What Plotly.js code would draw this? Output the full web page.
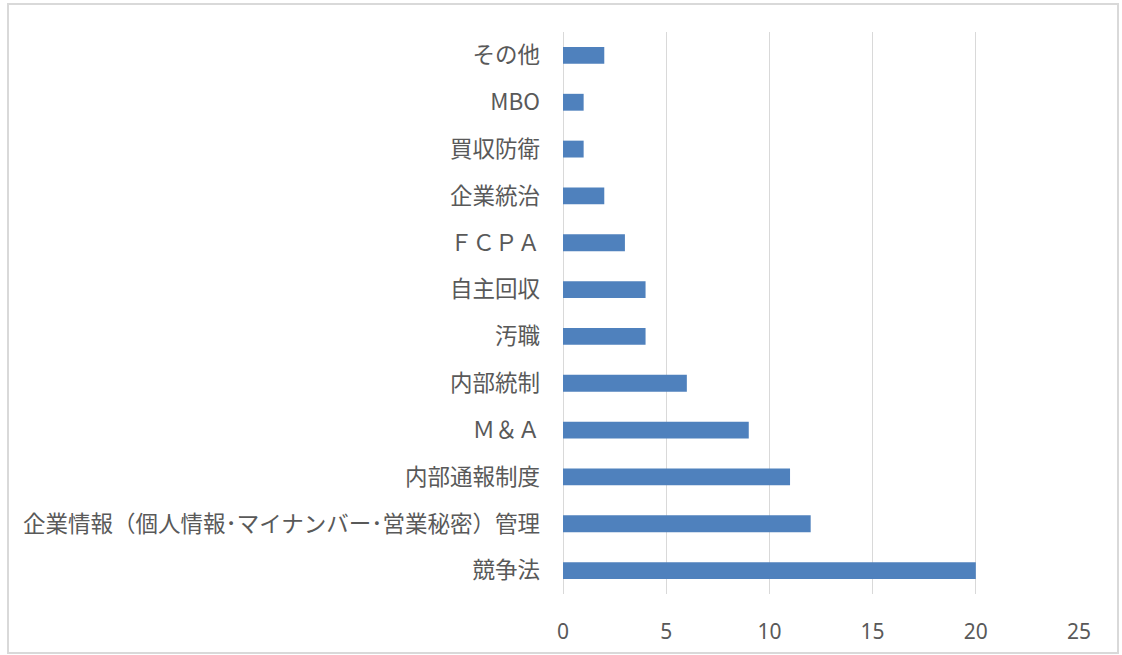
<!DOCTYPE html>
<html><head><meta charset="utf-8">
<script src="https://cdn.plot.ly/plotly-3.0.1.min.js"></script>
<style>body{margin:0;padding:0;background:#fff}#wrap{position:relative;width:1122px;height:655px}
#frame{position:absolute;left:7px;top:3px;width:1108px;height:647px;border:2px solid #d9d9d9;pointer-events:none}
#chart{position:absolute;left:0;top:0;width:1122px;height:655px}</style>
</head><body><div id="wrap"><div id="chart"></div><div id="frame"></div></div>
<script>
const categories = ["競争法","企業情報（個人情報･マイナンバー･営業秘密）管理","内部通報制度","Ｍ＆Ａ","内部統制","汚職","自主回収","ＦＣＰＡ","企業統治","買収防衛","MBO","その他"];
const counts = [20,12,11,9,6,4,4,3,2,1,1,2];
const tickVals = [0,5,10,15,20,25];

Plotly.newPlot('chart',[{
  type:'bar', orientation:'h', x:counts, y:categories,
  marker:{color:'#4F81BD'}, hoverinfo:'x+y'
}],{
  width:1122,height:655,
  margin:{l:563,r:43,t:32,b:61},
  paper_bgcolor:'#fff',plot_bgcolor:'#fff',
  bargap:0.64,
  font:{family:'Noto Sans CJK JP, Noto Sans, sans-serif',color:'#595959',size:22},
  xaxis:{range:[0,25],tickvals:tickVals,showgrid:true,gridcolor:'#d9d9d9',gridwidth:1,
    zeroline:true,zerolinecolor:'#d9d9d9',zerolinewidth:1,showline:false,ticks:'',
    tickfont:{size:21,family:'Noto Sans, sans-serif',color:'#595959'},ticklabelstandoff:23},
  yaxis:{type:'category',categoryorder:'array',categoryarray:categories,showgrid:false,zeroline:false,
    showline:false,ticks:'',ticklabelstandoff:22,tickfont:{size:22.5,color:'#595959'}},
  showlegend:false
},{displayModeBar:false,staticPlot:true});
</script></body></html>
